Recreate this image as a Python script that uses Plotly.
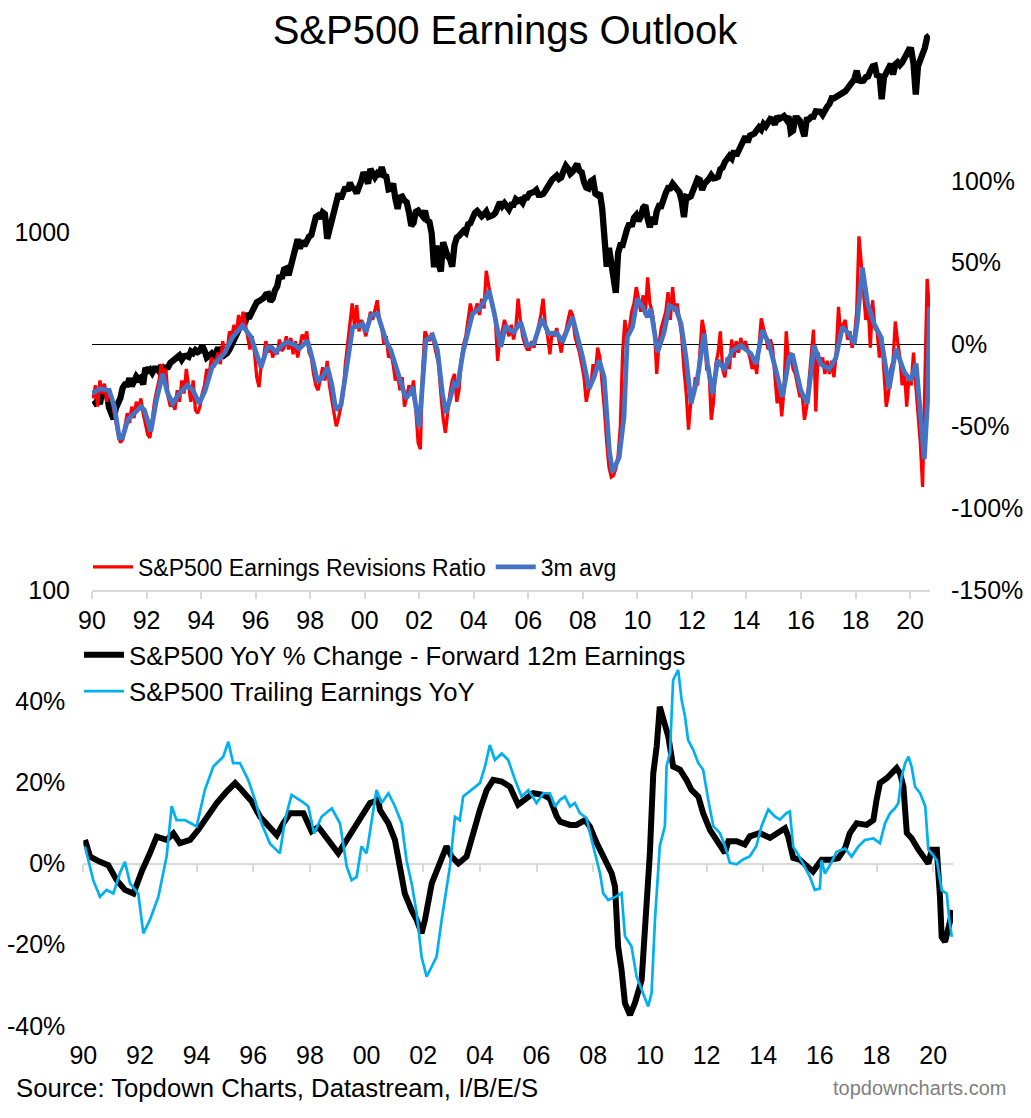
import pandas as pd
import plotly.graph_objects as go

W, H = 1031, 1118
FONT = "Arial, Liberation Sans, sans-serif"

# ---------------- DATA ----------------
# Monthly series, Jan 1990 .. Sep 2020
months = pd.period_range("1990-01", "2020-09", freq="M")
month_pos = list(months.year + (months.month - 0.5) / 12.0)

# S&P500 index level (left log axis, top panel)
spx = [
    329, 332, 340, 331, 361, 358, 356, 323, 306, 300, 322, 330,
    344, 367, 375, 375, 390, 371, 388, 395, 388, 392, 375, 417,
    409, 413, 404, 415, 415, 408, 424, 414, 418, 419, 431, 436,
    439, 443, 452, 440, 450, 451, 448, 464, 459, 468, 462, 466,
    482, 467, 446, 451, 457, 444, 458, 475, 463, 472, 454, 459,
    470, 487, 501, 515, 533, 545, 562, 562, 584, 582, 605, 616,
    636, 641, 646, 654, 669, 671, 640, 652, 687, 705, 757, 741,
    786, 791, 757, 801, 848, 885, 954, 899, 947, 915, 955, 970,
    980, 1049, 1102, 1112, 1091, 1134, 1121, 957, 1017, 1099, 1164, 1229,
    1280, 1238, 1286, 1335, 1302, 1373, 1329, 1320, 1283, 1363, 1389, 1469,
    1394, 1366, 1499, 1452, 1421, 1455, 1431, 1518, 1437, 1429, 1315, 1320,
    1366, 1240, 1160, 1249, 1256, 1224, 1211, 1134, 1041, 1060, 1139, 1148,
    1130, 1107, 1147, 1077, 1067, 990, 797, 916, 815, 776, 936, 880,
    856, 841, 800, 917, 964, 975, 990, 1008, 996, 1051, 1058, 1112,
    1131, 1145, 1126, 1107, 1121, 1141, 1102, 1104, 1115, 1130, 1174, 1212,
    1181, 1204, 1181, 1157, 1192, 1191, 1234, 1220, 1229, 1207, 1249, 1248,
    1280, 1281, 1295, 1311, 1270, 1270, 1277, 1304, 1336, 1378, 1401, 1418,
    1438, 1407, 1421, 1482, 1531, 1503, 1455, 1474, 1527, 1549, 1481, 1468,
    1379, 1331, 1323, 1386, 1400, 1280, 1267, 1283, 1165, 900, 800, 903,
    826, 735, 676, 873, 919, 919, 987, 1021, 1057, 1036, 1096, 1115,
    1074, 1104, 1169, 1187, 1089, 1031, 1102, 1049, 1141, 1183, 1181, 1258,
    1286, 1327, 1326, 1364, 1345, 1321, 1292, 1219, 1100, 1253, 1247, 1258,
    1312, 1366, 1408, 1398, 1310, 1362, 1379, 1407, 1441, 1412, 1416, 1426,
    1498, 1515, 1569, 1598, 1631, 1606, 1686, 1633, 1682, 1757, 1806, 1848,
    1783, 1859, 1872, 1884, 1924, 1960, 1931, 2003, 1972, 2018, 2068, 2059,
    1995, 2105, 2068, 2086, 2107, 2063, 2104, 1900, 1920, 2079, 2080, 2044,
    1940, 1850, 2060, 2065, 2097, 2099, 2174, 2171, 2168, 2126, 2199, 2239,
    2279, 2364, 2363, 2384, 2412, 2423, 2470, 2472, 2519, 2575, 2648, 2674,
    2824, 2650, 2641, 2648, 2705, 2718, 2816, 2902, 2914, 2712, 2760, 2350,
    2704, 2784, 2834, 2946, 2752, 2942, 2980, 2926, 2977, 3038, 3141, 3231,
    3226, 2954, 2420, 2912, 3044, 3100, 3271, 3500, 3540,
]

# S&P500 Earnings Revisions Ratio (%), monthly
revisions = [
    -33, -25, -38, -22, -30, -24, -35, -27, -32, -40, -48, -55,
    -60, -58, -50, -42, -48, -38, -45, -35, -40, -33, -42, -48,
    -55, -57, -45, -35, -28, -22, -12, -20, -15, -32, -38, -35,
    -40, -28, -35, -22, -30, -15, -25, -35, -22, -40, -42, -38,
    -30, -25, -15, -20, -8, -14, -10, -5, -12, 2, -6, -3,
    8, 5, 12, 6, 18, 10, 20, 12, 3, -3, 5, -5,
    -20, -26, -12, -8, 2, -5, 0, -8, -3, -6, 3, -4,
    -2, 5, -3, 4, -6, 2, -8, -2, 6, 3, 8, -5,
    -8, -18, -25, -28, -20, -14, -22, -10, -25, -35, -42, -50,
    -45, -38, -30, -12, 0, 15, 25, 12, 24, 8, 15, 10,
    5, 12, 20, 15, 22, 27, 15, 10, 0, 5, -8, -5,
    -12, -22, -18, -28, -20, -38, -32, -25, -30, -22, -40, -60,
    -64, -15, 8, 5, 2, 7, 0, -5, -12, -30, -45, -54,
    -40, -30, -22, -18, -35, -28, -10, 0, 5, 15, 25, 18,
    20, 25, 18, 28, 22, 45, 35, 28, 22, 15, -10, 5,
    8, 15, 10, 5, 12, 3, 10, 28, 15, 5, 0, -3,
    -3, 2, -2, 5, 10, 18, 28, 12, 5, -6, 8, 5,
    10, 2, -5, 5, 8, 15, 21, 18, 5, 0, -5, -12,
    -20, -35, -28, -25, -12, -18, -2, -8, -22, -40, -60, -75,
    -81, -80, -76, -68, -50, -5, 15, 5, 10, 20, 25, 35,
    28, 20, 30, 18, 41, 25, 20, 10, -18, 0, 10, 15,
    20, 32, 15, 35, 20, 25, 15, 5, -15, -30, -52, -35,
    -32, -20, -25, -5, 15, 8, -15, -15, -46, -35, -12, -5,
    8, -15, -20, -8, -15, 3, -8, 2, -5, 4, -3, 2,
    -3, -8, -15, -10, -18, 2, 16, 10, 5, -3, 3, -2,
    -20, -36, -25, -44, -28, 8, -10, -5, -15, -18, -25, -32,
    -30, -46, -38, -22, -3, 9, -41, -5, -12, -8, -18, -10,
    -18, -10, -20, -5, 23, 5, 12, 15, 3, 8, -2, 5,
    20, 66, 50, 30, 15, 25, -2, 27, 10, 8, -8, 5,
    -20, -38, -30, -15, -10, 14, 2, -8, -25, -15, -38, -20,
    -25, -5, -25, -40, -60, -87, -30, 40, 21,
]

# 3m avg of revisions ratio (%), read at these dates
avg3m_pos = [
    1990.0, 1990.3, 1990.63, 1990.82, 1991.0, 1991.12, 1991.31, 1991.55, 1991.8, 1991.92,
    1992.16, 1992.35, 1992.59, 1992.78, 1992.96, 1993.2, 1993.5, 1993.7, 1993.93, 1994.15,
    1994.4, 1994.6, 1994.85, 1995.16, 1995.35, 1995.52, 1995.83, 1996.0, 1996.2, 1996.43,
    1996.6, 1996.74, 1997.0, 1997.17, 1997.4, 1997.6, 1997.9, 1998.1, 1998.27, 1998.45,
    1998.64, 1998.8, 1998.94, 1999.13, 1999.35, 1999.56, 1999.75, 1999.92, 2000.04, 2000.23,
    2000.47, 2000.65, 2000.78, 2000.96, 2001.27, 2001.4, 2001.51, 2001.65, 2001.76, 2002.0,
    2002.12, 2002.24, 2002.49, 2002.67, 2002.85, 2002.98, 2003.15, 2003.28, 2003.4, 2003.6,
    2003.95, 2004.2, 2004.4, 2004.56, 2004.74, 2004.99, 2005.17, 2005.3, 2005.47, 2005.72,
    2005.96, 2006.2, 2006.5, 2006.75, 2007.05, 2007.25, 2007.45, 2007.62, 2007.99, 2008.23,
    2008.41, 2008.6, 2008.78, 2008.97, 2009.09, 2009.33, 2009.51, 2009.63, 2009.82, 2010.0,
    2010.19, 2010.37, 2010.49, 2010.74, 2010.98, 2011.17, 2011.41, 2011.6, 2011.78, 2011.97,
    2012.21, 2012.45, 2012.57, 2012.76, 2012.94, 2013.19, 2013.49, 2013.8, 2014.16, 2014.35,
    2014.59, 2014.83, 2015.08, 2015.32, 2015.57, 2015.68, 2015.99, 2016.23, 2016.48, 2016.72,
    2017.03, 2017.27, 2017.52, 2017.76, 2017.95, 2018.07, 2018.25, 2018.44, 2018.68, 2018.93,
    2019.23, 2019.48, 2019.79, 2020.03, 2020.22, 2020.34, 2020.52, 2020.65, 2020.71,
]
avg3m = [
    -30, -27, -28, -38, -57, -57, -46, -42, -38, -40,
    -53, -35, -18, -30, -36, -30, -25, -28, -36, -28,
    -14, -10, -5.5, 4.5, 8, 11.6, 4.5, -5, -14, -1.6,
    -2, -4.7, 0, 1.4, 0, -2.7, 2.4, -10, -23, -20,
    -14, -25, -40, -37, -10, 10.6, 11, 12.6, 7.5, 17.7,
    18.7, 8, 2.4, -3.7, -20, -25, -33, -30, -26, -50.5,
    -20, 2.4, 5.5, -3.7, -30, -42, -32, -24, -26, -5,
    18.7, 21.8, 27, 33, 20, -1.6, 11.6, 9, 7.5, 13.6,
    -0.6, 0.4, 15.7, 6.5, 7, 1.4, 10, 16.7, -7.7, -27,
    -20, -9.8, -20, -64.8, -78, -69, -44, 4.5, 10.6, 28,
    23, 16.7, 21.8, -4.7, 7.5, 23.8, 21.8, 12.6, -7.7, -36,
    -20, 6.5, -12, -30, -9.8, -15, -3.7, -0.6, -5.7, -12,
    8.5, 0.4, -16, -32, -7.7, -5.7, -28, -36, -0.6, -12,
    -15, -8.7, 10.6, 6.5, 0.4, 14.7, 47, 25, 12.6, 4.5,
    -27, -2.7, -17, -22, -11.6, -32, -70, -32, 22.8,
]

# S&P500 YoY % Change - Forward 12m Earnings
fwd_pos = [
    1990.06, 1990.24, 1990.59, 1990.88, 1991.18, 1991.47, 1991.77, 1991.88, 1992.06, 1992.35,
    1992.59, 1992.94, 1993.18, 1993.41, 1993.77, 1994.06, 1994.36, 1994.71, 1995.06, 1995.36,
    1995.59, 1995.94, 1996.24, 1996.53, 1996.83, 1997.06, 1997.3, 1997.77, 1998.06, 1998.3,
    1998.71, 1999.0, 1999.3, 1999.65, 1999.88, 2000.12, 2000.3, 2000.41, 2000.47, 2000.77,
    2001.0, 2001.18, 2001.35, 2001.59, 2001.77, 2001.94, 2002.06, 2002.3, 2002.53, 2002.82,
    2003.0, 2003.24, 2003.53, 2003.77, 2004.0, 2004.24, 2004.47, 2004.77, 2005.06, 2005.35,
    2005.59, 2005.88, 2006.24, 2006.47, 2006.71, 2006.83, 2007.18, 2007.41, 2007.71, 2007.88,
    2008.12, 2008.41, 2008.65, 2008.77, 2008.88, 2009.0, 2009.12, 2009.3, 2009.47, 2009.71,
    2009.88, 2010.0, 2010.12, 2010.24, 2010.35, 2010.53, 2010.65, 2010.82, 2011.06, 2011.29,
    2011.47, 2011.71, 2011.88, 2012.12, 2012.41, 2012.65, 2012.77, 2013.06, 2013.35, 2013.53,
    2013.88, 2014.24, 2014.59, 2014.77, 2014.88, 2015.06, 2015.3, 2015.53, 2015.76, 2016.06,
    2016.36, 2016.65, 2016.89, 2017.06, 2017.3, 2017.65, 2017.89, 2018.0, 2018.12, 2018.36,
    2018.6, 2018.71, 2018.83, 2018.95, 2019.07, 2019.24, 2019.48, 2019.66, 2019.83, 2019.95,
    2020.13, 2020.24, 2020.3, 2020.42, 2020.54, 2020.6, 2020.69,
]
fwd_yoy = [
    5.8, 1.7, 0.4, -0.4, -4.1, -6.5, -7.4, -4.9, -2.0, 2.5,
    6.6, 5.8, 7.4, 5.0, 5.8, 8.3, 11.5, 14.9, 17.7, 19.8,
    18.1, 15.3, 11.5, 9.1, 7.0, 9.9, 12.4, 12.4, 7.9, 9.0,
    5.0, 2.5, 5.8, 9.9, 12.0, 14.9, 15.3, 16.1, 13.2, 9.9,
    5.8, -0.8, -7.4, -11.5, -13.9, -17.2, -13.9, -4.9, -0.8, 4.2,
    1.7, 0.0, 1.7, 8.3, 13.2, 18.1, 20.6, 20.2, 18.9, 14.5,
    15.7, 17.3, 16.9, 16.0, 11.6, 10.3, 9.5, 9.5, 10.7, 9.1,
    5.1, 1.0, -2.4, -5.7, -20.5, -26.2, -34.4, -37.3, -34.4, -28.7,
    -12.3, 2.6, 22.2, 28.8, 38.6, 33.7, 31.3, 23.9, 23.1, 20.6,
    18.1, 16.5, 12.4, 8.3, 5.1, 2.6, 5.5, 5.5, 4.7, 6.7,
    7.5, 6.3, 7.9, 8.7, 6.7, 1.4, 0.9, -0.4, -2.0, 0.9,
    0.9, 1.3, 3.8, 7.5, 9.9, 9.5, 10.7, 15.6, 19.8, 21.0,
    22.6, 23.5, 22.2, 18.9, 7.5, 6.2, 3.4, 1.7, 0.0, 3.4,
    3.4, -8.2, -18.1, -19.3, -16.4, -14.8, -11.5,
]

# S&P500 Trailing Earnings YoY
trail_pos = [
    1990.06, 1990.35, 1990.59, 1990.82, 1991.06, 1991.29, 1991.47, 1991.65, 1991.94, 1992.12,
    1992.35, 1992.65, 1992.94, 1993.12, 1993.29, 1993.59, 1994.0, 1994.29, 1994.59, 1994.94,
    1995.12, 1995.29, 1995.53, 1995.82, 1996.06, 1996.29, 1996.59, 1996.94, 1997.12, 1997.35,
    1997.71, 1997.94, 1998.15, 1998.41, 1998.77, 1999.06, 1999.3, 1999.47, 1999.65, 1999.82,
    2000.0, 2000.18, 2000.35, 2000.53, 2000.77, 2001.0, 2001.24, 2001.41, 2001.59, 2001.77,
    2001.94, 2002.12, 2002.3, 2002.47, 2002.65, 2002.82, 2002.94, 2003.12, 2003.29, 2003.41,
    2003.71, 2004.0, 2004.18, 2004.35, 2004.53, 2004.77, 2005.0, 2005.24, 2005.47, 2005.71,
    2006.0, 2006.24, 2006.47, 2006.65, 2006.83, 2007.0, 2007.18, 2007.35, 2007.53, 2007.76,
    2007.94, 2008.06, 2008.24, 2008.35, 2008.53, 2008.82, 2009.0, 2009.12, 2009.35, 2009.53,
    2009.77, 2009.94, 2010.06, 2010.18, 2010.35, 2010.53, 2010.59, 2010.71, 2010.82, 2011.0,
    2011.12, 2011.24, 2011.35, 2011.53, 2011.71, 2011.88, 2012.06, 2012.24, 2012.47, 2012.65,
    2012.82, 2013.06, 2013.29, 2013.53, 2013.76, 2013.94, 2014.18, 2014.41, 2014.59, 2014.82,
    2014.94, 2015.06, 2015.24, 2015.47, 2015.65, 2015.82, 2016.0, 2016.06, 2016.18, 2016.42,
    2016.59, 2016.89, 2017.12, 2017.36, 2017.59, 2017.89, 2018.12, 2018.3, 2018.48, 2018.65,
    2018.77, 2018.89, 2019.01, 2019.13, 2019.24, 2019.36, 2019.54, 2019.72, 2019.83, 2019.95,
    2020.13, 2020.3, 2020.48, 2020.57, 2020.66,
]
trail_yoy = [
    4.2, -4.1, -8.2, -6.5, -7.4, -2.4, 0.4, -4.9, -7.4, -17.2,
    -13.9, -8.2, 1.7, 14.1, 10.7, 10.7, 9.1, 18.1, 23.9, 26.3,
    30.0, 24.7, 24.7, 20.6, 15.7, 9.9, 4.9, 2.5, 10.7, 16.9,
    15.3, 14.1, 7.4, 11.5, 13.6, 9.9, -0.8, -4.1, -3.3, 4.2,
    2.5, 10.7, 18.1, 14.9, 17.3, 14.1, 9.9, 0.8, -4.9, -12.3,
    -23.0, -27.9, -25.4, -23.0, -13.9, -6.6, -0.8, 11.5, 10.7, 16.5,
    18.1, 19.8, 23.9, 29.2, 25.5, 27.1, 25.5, 20.6, 16.5, 18.1,
    14.9, 17.3, 17.3, 14.0, 15.7, 16.5, 14.0, 14.9, 12.4, 11.2,
    5.9, 2.6, -2.4, -7.3, -9.0, -8.1, -7.3, -17.9, -20.4, -27.8,
    -31.9, -35.2, -31.9, -13.8, 4.3, 9.2, 24.0, 27.3, 45.2, 47.7,
    40.3, 36.2, 30.4, 28.0, 24.7, 23.1, 15.7, 9.2, 7.5, 4.3,
    0.2, -0.2, 1.0, 1.8, 4.3, 9.2, 13.3, 11.6, 10.8, 12.4,
    12.8, 4.1, 2.1, -0.8, -3.3, -6.5, -6.2, 0.8, -2.5, 0.4,
    2.9, 3.7, 1.7, 4.2, 5.8, 6.2, 5.0, 9.9, 12.4, 13.6,
    14.9, 21.4, 24.7, 26.3, 23.8, 18.9, 17.3, 14.1, 3.4, 2.5,
    0.8, -6.6, -7.4, -14.0, -18.1,
]

year_ticks = list(range(1990, 2021, 2))
year_labels = [f"{y % 100:02d}" for y in year_ticks]
left_ticks = [100, 1000]
right_ticks = [-150, -100, -50, 0, 50, 100]
bottom_ticks = [-40, -20, 0, 20, 40]

# ---------------- FIGURE ----------------
def py(px):
    return 1 - px / H

def pxx(px):
    return px / W

fig = go.Figure()

fig.add_trace(go.Scatter(x=month_pos, y=spx, xaxis="x", yaxis="y", mode="lines",
                         line=dict(color="#000000", width=6.3), showlegend=False,
                         name="S&P500"))
fig.add_trace(go.Scatter(x=month_pos, y=revisions, xaxis="x", yaxis="y2", mode="lines",
                         line=dict(color="#FF0000", width=3.3),
                         name="S&P500 Earnings Revisions Ratio", legend="legend"))
fig.add_trace(go.Scatter(x=avg3m_pos, y=avg3m, xaxis="x", yaxis="y2", mode="lines",
                         line=dict(color="#4472C4", width=4.8),
                         name="3m avg", legend="legend"))

fig.add_trace(go.Scatter(x=fwd_pos, y=fwd_yoy, xaxis="x3", yaxis="y3", mode="lines",
                         line=dict(color="#000000", width=6),
                         name="S&P500 YoY % Change - Forward 12m Earnings", legend="legend2"))
fig.add_trace(go.Scatter(x=trail_pos, y=trail_yoy, xaxis="x4", yaxis="y3", mode="lines",
                         line=dict(color="#00B0F0", width=2.7),
                         name="S&P500 Trailing Earnings YoY", legend="legend2"))

tickfont = dict(family=FONT, size=25, color="#000000")
grey = "#D9D9D9"

top_x0, top_x1 = 92, 930
bot_x0, bot_x1 = 83.3, 953

fig.update_layout(
    width=W, height=H, autosize=False,
    margin=dict(l=0, r=0, t=0, b=0, pad=0, autoexpand=False),
    paper_bgcolor="white", plot_bgcolor="white",
    font=dict(family=FONT, color="#000000"),
    title=dict(text="S&P500 Earnings Outlook", x=505 / W, xanchor="center", xref="container",
               y=py(30), yanchor="middle", yref="container", automargin=False,
               font=dict(family=FONT, size=40, color="#000000")),
    xaxis=dict(domain=[pxx(top_x0), pxx(top_x1)], range=[1990, 2020.73], anchor="y",
               tickmode="array", tickvals=year_ticks, ticktext=year_labels, tickfont=tickfont,
               showline=True, linecolor=grey, linewidth=2, ticks="outside", ticklen=7,
               tickwidth=2, tickcolor=grey, showgrid=False, zeroline=False,
               ticklabelstandoff=0, automargin=False),
    yaxis=dict(domain=[py(590), py(20)], type="log", range=[2, 2 + 570 / 358], anchor="x",
               tickmode="array", tickvals=left_ticks, ticktext=["100", "1000"],
               tickfont=tickfont, showgrid=False, zeroline=False, showline=False,
               ticks="", ticklabelstandoff=21, automargin=False),
    yaxis2=dict(overlaying="y", side="right", anchor="x", range=[-150, -150 + 570 / 1.637],
                tickmode="array", tickvals=right_ticks, ticktext=[f"{v}%" for v in right_ticks],
                tickfont=tickfont, showgrid=False, zeroline=True, zerolinecolor="#000000",
                zerolinewidth=1, showline=False, ticks="", ticklabelstandoff=20,
                automargin=False),
    xaxis3=dict(domain=[pxx(bot_x0), pxx(bot_x1)], range=[1990, 2020.7], anchor="y3",
                tickmode="array", tickvals=year_ticks, ticktext=year_labels, tickfont=tickfont,
                showline=False, ticks="", showgrid=False, zeroline=False,
                ticklabelstandoff=8, automargin=False),
    xaxis4=dict(domain=[pxx(bot_x0), pxx(bot_x1)], range=[1990, 2020.7], overlaying="x3",
                anchor="free", position=py(863.5), side="bottom",
                tickmode="array", tickvals=year_ticks, showticklabels=False,
                showline=True, linecolor=grey, linewidth=2, ticks="outside", ticklen=7,
                tickwidth=2, tickcolor=grey, showgrid=False, zeroline=False,
                layer="below traces", automargin=False),
    yaxis3=dict(domain=[py(1030), py(650)], range=[-(1030 - 863.5) / 4.06, (863.5 - 650) / 4.06],
                anchor="x3", tickmode="array", tickvals=bottom_ticks,
                ticktext=[f"{v}%" for v in bottom_ticks], tickfont=tickfont,
                showgrid=False, zeroline=False, showline=False, ticks="",
                ticklabelstandoff=17, automargin=False),
    legend=dict(orientation="h", x=pxx(88), y=py(567), xanchor="left", yanchor="middle",
                font=dict(family=FONT, size=23, color="#000000"), itemwidth=40,
                bgcolor="rgba(0,0,0,0)", traceorder="normal"),
    legend2=dict(orientation="v", x=pxx(79), y=py(673), xanchor="left", yanchor="middle",
                 font=dict(family=FONT, size=25.7, color="#000000"), itemwidth=40,
                 bgcolor="rgba(0,0,0,0)", traceorder="normal", tracegroupgap=0),
    annotations=[
        dict(text="Source: Topdown Charts, Datastream, I/B/E/S", xref="paper", yref="paper",
             x=pxx(14), y=py(1088), xanchor="left", yanchor="middle", showarrow=False,
             font=dict(family=FONT, size=25.7, color="#000000")),
        dict(text="topdowncharts.com", xref="paper", yref="paper",
             x=pxx(1008), y=py(1088), xanchor="right", yanchor="middle", showarrow=False,
             font=dict(family=FONT, size=20, color="#7F7F7F")),
    ],
)

fig.write_html(
    "out.html",
    config={"displayModeBar": False},
    post_script="document.body.style.margin='0';document.body.style.overflow='hidden';",
)
